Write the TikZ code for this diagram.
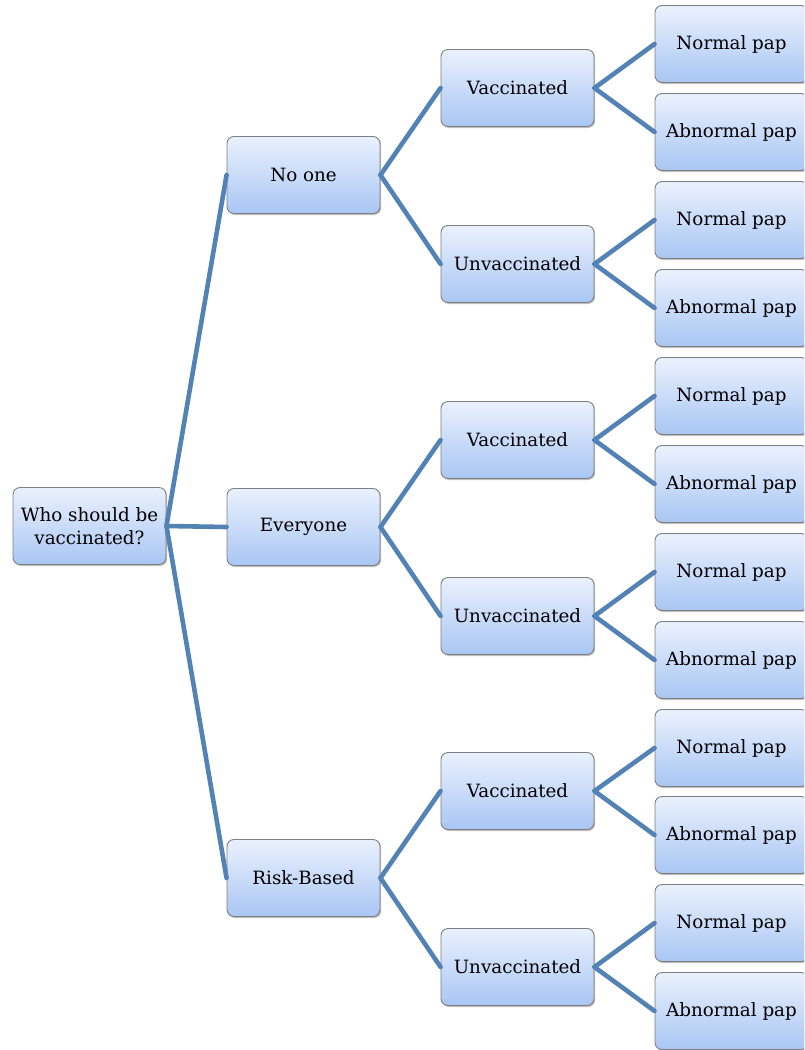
\documentclass[tikz,border=0pt]{standalone}
\usepackage{fontspec}
\setmainfont{DejaVu Serif}
\usetikzlibrary{shadows}
\definecolor{boxtop}{HTML}{EAF1FD}
\definecolor{boxbot}{HTML}{A9C6F4}
\definecolor{boxline}{HTML}{7F7F7F}
\definecolor{linkcol}{HTML}{5382B4}
\tikzset{
  box/.style={draw=boxline, line width=0.9pt, rounded corners=7pt,
    top color=boxtop, bottom color=boxbot,
    minimum width=153pt, minimum height=77pt, inner sep=2pt,
    align=center, font=\fontsize{18.3}{22.5}\selectfont,
    drop shadow={shadow xshift=1.2pt, shadow yshift=-1.5pt, opacity=0.25, fill=black}},
  link/.style={draw=linkcol, line width=4.6pt, line cap=round}
}
\begin{document}
\begin{tikzpicture}[x=1pt,y=-1pt]
\useasboundingbox (0,0) rectangle (804,1050);
\clip (0,0) rectangle (804,1050);
\fill[white] (0,0) rectangle (804,1050);
\node[box] (root) at (89.5,526) {Who should be\\vaccinated?};
\node[box] (a) at (303.5,175) {No one};
\node[box] (b) at (303.5,527) {Everyone};
\node[box] (c) at (303.5,878) {Risk-Based};
\node[box] (a1) at (517.5,88) {Vaccinated};
\node[box] (a2) at (517.5,264) {Unvaccinated};
\node[box] (b1) at (517.5,440) {Vaccinated};
\node[box] (b2) at (517.5,616) {Unvaccinated};
\node[box] (c1) at (517.5,791) {Vaccinated};
\node[box] (c2) at (517.5,967) {Unvaccinated};
\foreach \p/\y in {a1/44, a2/220, b1/396, b2/572, c1/748, c2/923}{
  \node[box] (\p n) at (731.5,\y) {Normal pap};
}
\foreach \p/\y in {a1/132, a2/308, b1/484, b2/660, c1/835, c2/1011}{
  \node[box] (\p b) at (731.5,\y) {Abnormal pap};
}
\foreach \c in {a,b,c}{\draw[link] (root.east) -- (\c.west);}
\foreach \p in {a,b,c}{
  \draw[link] (\p.east) -- (\p1.west);
  \draw[link] (\p.east) -- (\p2.west);
}
\foreach \p in {a1,a2,b1,b2,c1,c2}{
  \draw[link] (\p.east) -- (\p n.west);
  \draw[link] (\p.east) -- (\p b.west);
}
\end{tikzpicture}
\end{document}
